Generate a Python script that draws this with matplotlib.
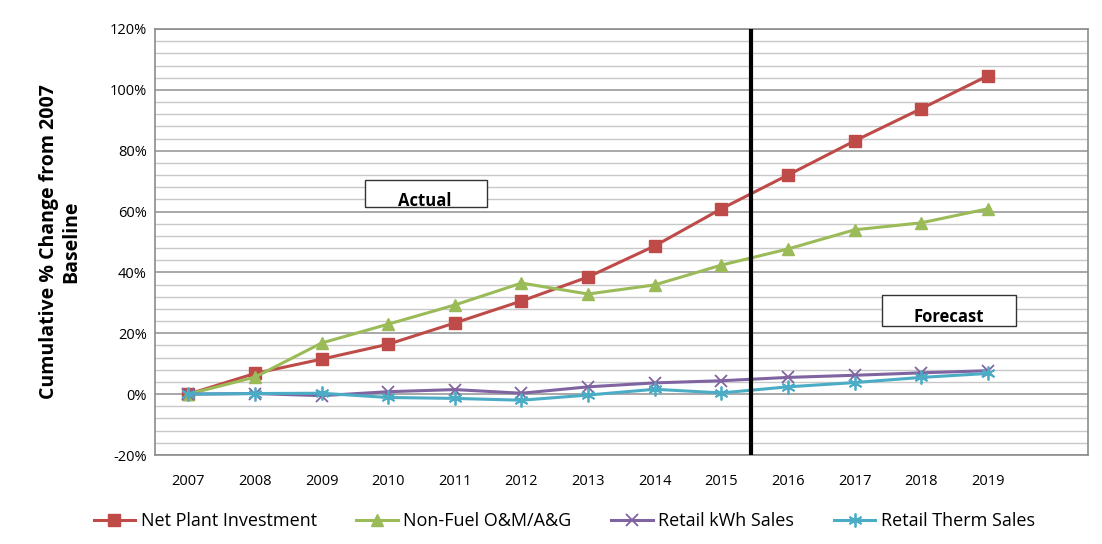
import numpy as np
import matplotlib
matplotlib.use('Agg')
from matplotlib import pyplot as plt
from matplotlib.ticker import MultipleLocator, FuncFormatter

# data (percent change from 2007)
years = [2007, 2008, 2009, 2010, 2011, 2012, 2013, 2014, 2015, 2016, 2017, 2018, 2019]
net_plant = [0, 6.8, 11.5, 16.4, 23.4, 30.6, 38.5, 48.7, 60.9, 72.0, 83.2, 93.8, 104.6]
non_fuel = [0, 5.6, 16.8, 23.0, 29.3, 36.5, 32.9, 35.9, 42.4, 47.7, 54.0, 56.3, 60.9]
kwh_sales = [0, 0.2, -0.5, 0.8, 1.5, 0.3, 2.4, 3.7, 4.4, 5.5, 6.2, 7.0, 7.7]
therm_sales = [0, 0.2, 0.3, -1.1, -1.4, -2.0, -0.3, 1.6, 0.4, 2.4, 3.8, 5.5, 6.8]

plt.rcParams['font.family'] = ['Open Sans', 'DejaVu Sans']

fig = plt.figure(figsize=(11.02, 5.44), dpi=100)
ax = fig.add_axes([0.1407, 0.1636, 0.8463, 0.7831])

x = np.arange(len(years))
ax.plot(x, net_plant, color='#BE4B48', lw=2.2, marker='s', ms=8, label='Net Plant Investment')
ax.plot(x, non_fuel, color='#9BBB59', lw=2.2, marker='^', ms=9, label='Non-Fuel O&M/A&G')
ax.plot(x, kwh_sales, color='#8064A2', lw=2.2, marker='x', ms=9, mew=1.3, label='Retail kWh Sales')
ax.plot(x, therm_sales, color='#4BACC6', lw=2.2, marker=(6, 2, 0), ms=10, mew=1.3, label='Retail Therm Sales')

# actual / forecast divider
ax.axvline(8.45, color='black', lw=3, zorder=5)

ax.set_xlim(-0.5, 13.5)
ax.set_ylim(-20, 120)
ax.set_xticks(x)
ax.set_xticklabels([str(y) for y in years], fontsize=10.5)
ax.yaxis.set_major_locator(MultipleLocator(20))
ax.yaxis.set_minor_locator(MultipleLocator(4))
ax.yaxis.set_major_formatter(FuncFormatter(lambda v, p: '%d%%' % v))
ax.tick_params(axis='y', labelsize=10.5, length=0, which='both', pad=6)
ax.tick_params(axis='x', length=0, pad=14)
ax.grid(axis='y', which='major', color='#9a9a9a', lw=1.2)
ax.grid(axis='y', which='minor', color='#c8c8c8', lw=1.0)
ax.set_axisbelow(True)
for s in ax.spines.values():
    s.set_color('#8c8c8c')
    s.set_linewidth(1.2)

ax.set_ylabel('Cumulative % Change from 2007\nBaseline', fontsize=14, fontweight='bold', labelpad=20)

# annotation boxes
ax.add_patch(plt.Rectangle((2.65, 61.5), 1.84, 9, fill=True, fc='white', ec='#333333', lw=1, zorder=3))
ax.text(3.55, 63.5, 'Actual', fontsize=12, fontweight='bold', ha='center', va='center', zorder=4)
ax.add_patch(plt.Rectangle((10.41, 22.5), 2.02, 10, fill=True, fc='white', ec='#333333', lw=1, zorder=3))
ax.text(11.42, 25.2, 'Forecast', fontsize=12, fontweight='bold', ha='center', va='center', zorder=4)

fig.legend(loc='lower center', bbox_to_anchor=(0.512, -0.005), ncol=4, frameon=False,
           fontsize=13, handlelength=2.3, columnspacing=2.2, handletextpad=0.3)

fig.savefig('out.png', dpi=100)
